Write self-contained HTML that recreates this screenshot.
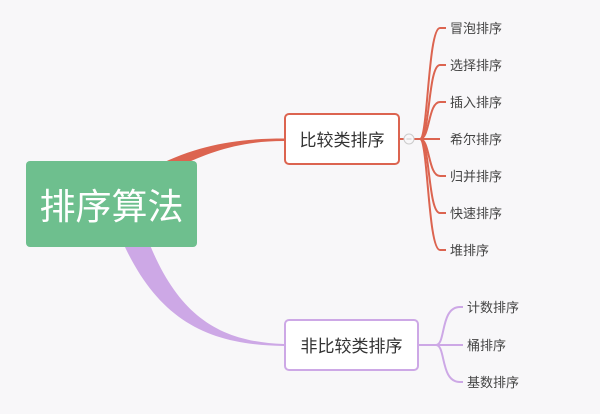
<!DOCTYPE html>
<html><head><meta charset="utf-8"><style>
html,body{margin:0;padding:0;background:#f8f7f9;}
svg{display:block}
text{font-family:"Liberation Sans","Noto Sans CJK SC",sans-serif;}
</style></head><body>
<svg width="600" height="414" viewBox="0 0 600 414" xmlns="http://www.w3.org/2000/svg">
<rect width="600" height="414" fill="#f8f7f9"/>
<!-- main branches -->
<path d="M156,166 C200,144 240,138.5 284,138.5 L284,141 C240,141 210,152 180,166 Z" fill="#dc6450"/>
<path d="M124,245 C160,322 210,345 284,346 L284,344 C222,342 180,318 150,245 Z" fill="#cda8e6"/>
<!-- root -->
<rect x="26" y="161" width="171" height="86" rx="4" fill="#6ebf8e"/>
<text x="111.5" y="219" text-anchor="middle" font-size="36" fill="#fff">排序算法</text>
<!-- red box -->
<rect x="285" y="114" width="114" height="50" rx="4" fill="#fff" stroke="#dc6450" stroke-width="2"/>
<text x="342" y="146" text-anchor="middle" font-size="17" fill="#333">比较类排序</text>
<line x1="399" y1="139" x2="440" y2="139" stroke="#dc6450" stroke-width="2"/>
<circle cx="409" cy="139" r="5" fill="#f8f7f9" stroke="#ccc" stroke-width="1"/>
<line x1="406.5" y1="139" x2="411.5" y2="139" stroke="#ccc"/>
<g fill="none" stroke="#dc6450" stroke-width="2">
<path d="M420,139 C428,139 428,28 440,28 L446,28"/>
<path d="M420,139 C430,139 428,65 440,65 L446,65"/>
<path d="M420,139 C430,139 428,102 440,102 L446,102"/>
<path d="M420,139 C430,139 428,176 440,176 L446,176"/>
<path d="M420,139 C430,139 428,213 440,213 L446,213"/>
<path d="M420,139 C428,139 428,250 440,250 L446,250"/>
</g>
<g font-size="13" fill="#444">
<text x="450" y="33">冒泡排序</text>
<text x="450" y="70">选择排序</text>
<text x="450" y="107">插入排序</text>
<text x="450" y="144">希尔排序</text>
<text x="450" y="181">归并排序</text>
<text x="450" y="218">快速排序</text>
<text x="450" y="255">堆排序</text>
</g>
<!-- purple box -->
<rect x="285" y="320" width="133" height="50" rx="4" fill="#fff" stroke="#cda8e6" stroke-width="2"/>
<text x="351.5" y="352" text-anchor="middle" font-size="17" fill="#333">非比较类排序</text>
<g fill="none" stroke="#cda8e6" stroke-width="2">
<path d="M418,345 L438,345"/>
<path d="M436,345 C446,345 440,307 460,307 L463,307"/>
<path d="M436,345 C446,345 440,382 460,382 L463,382"/>
<path d="M436,345 L463,345"/>
</g>
<g font-size="13" fill="#444">
<text x="467" y="312">计数排序</text>
<text x="467" y="350">桶排序</text>
<text x="467" y="387">基数排序</text>
</g>
</svg>
</body></html>
